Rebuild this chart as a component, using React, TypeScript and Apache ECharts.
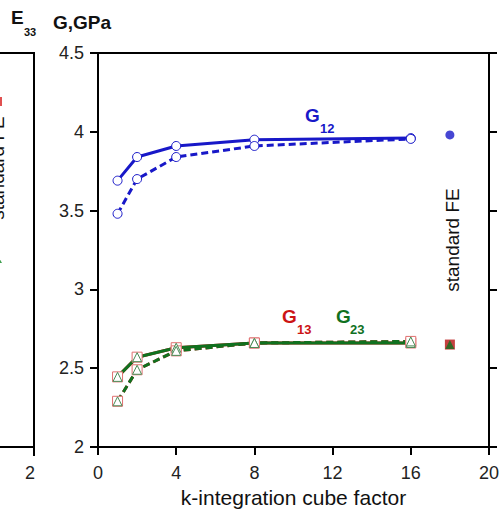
import React, { useEffect, useRef } from "react";
import * as echarts from "echarts";

const FONT = "'Liberation Sans', Arial, sans-serif";

// k-integration cube factor
const kFactors = [1, 2, 4, 8, 16];
// G12 (GPa)
const g12Solid = [3.69, 3.84, 3.91, 3.95, 3.96];
const g12Dashed = [3.48, 3.70, 3.84, 3.91, 3.955];
// G13 (GPa) – coincides with G23
const g13Solid = [2.445, 2.57, 2.63, 2.66, 2.66];
const g13Dashed = [2.29, 2.49, 2.61, 2.66, 2.67];
// G23 (GPa)
const g23Solid = [2.445, 2.57, 2.63, 2.66, 2.66];
const g23Dashed = [2.29, 2.49, 2.61, 2.66, 2.67];
// standard FE reference values
const feX = 18;
const feG12 = 3.98;
const feG13 = 2.65;
const feG23 = 2.65;

const xTicks = { min: 0, max: 20, interval: 4 };
const yTicks = { min: 2, max: 4.5, interval: 0.5 };

const BLUE = "#1818c8";
const GREEN = "#10711f";
const RED = "#cc1414";

const pairs = (ys: number[]) => kFactors.map((k, i) => [k, ys[i]]);

export default function App() {
  const ref = useRef<HTMLDivElement>(null);
  useEffect(() => {
    if (!ref.current) return;
    const chart = echarts.init(ref.current, null, { renderer: "svg" });
    const axisLine = { show: true, onZero: false, lineStyle: { color: "#000", width: 2 } };
    const circleItem = { color: "#fff", borderColor: BLUE, borderWidth: 1 };
    chart.setOption({
      animation: false,
      backgroundColor: "#fff",
      textStyle: { fontFamily: FONT },
      grid: { left: 98, top: 53, width: 392, height: 394 },
      xAxis: [
        {
          type: "value",
          ...xTicks,
          position: "bottom",
          axisLine,
          axisTick: { show: true, inside: false, length: 8, lineStyle: { color: "#000", width: 2 } },
          axisLabel: { fontSize: 18, color: "#222", margin: 17, fontFamily: FONT },
          splitLine: { show: false },
          name: "k-integration cube factor",
          nameLocation: "middle",
          nameGap: 36,
          nameTextStyle: { fontSize: 21, color: "#111", fontFamily: FONT },
        },
        {
          type: "value",
          ...xTicks,
          position: "top",
          axisLine,
          axisTick: { show: false },
          axisLabel: { show: false },
          splitLine: { show: false },
        },
      ],
      yAxis: [
        {
          type: "value",
          ...yTicks,
          position: "left",
          axisLine,
          axisTick: { show: true, inside: false, length: 8, lineStyle: { color: "#000", width: 2 } },
          axisLabel: { fontSize: 18, color: "#222", margin: 14, fontFamily: FONT },
          splitLine: { show: false },
        },
        {
          type: "value",
          ...yTicks,
          position: "right",
          axisLine,
          axisTick: { show: true, inside: false, length: 8, lineStyle: { color: "#000", width: 2 } },
          axisLabel: { show: false },
          splitLine: { show: false },
        },
      ],
      series: [
        {
          name: "G12 solid",
          type: "line",
          data: pairs(g12Solid),
          symbol: "circle",
          symbolSize: 9,
          itemStyle: circleItem,
          lineStyle: { color: BLUE, width: 3 },
        },
        {
          name: "G12 dashed",
          type: "line",
          data: pairs(g12Dashed),
          symbol: "circle",
          symbolSize: 9,
          itemStyle: circleItem,
          lineStyle: { color: BLUE, width: 3, type: [7, 4] },
        },
        {
          name: "G13 solid",
          type: "line",
          data: pairs(g13Solid),
          symbol: "rect",
          symbolSize: 10,
          itemStyle: { color: "#fff", borderColor: "#e07070", borderWidth: 1 },
          lineStyle: { color: RED, width: 3 },
        },
        {
          name: "G13 dashed",
          type: "line",
          data: pairs(g13Dashed),
          symbol: "rect",
          symbolSize: 10,
          itemStyle: { color: "#fff", borderColor: "#e07070", borderWidth: 1 },
          lineStyle: { color: RED, width: 3, type: [7, 4] },
        },
        {
          name: "G23 solid",
          type: "line",
          data: pairs(g23Solid),
          symbol: "triangle",
          symbolSize: 9,
          itemStyle: { color: "#fff", borderColor: "#4a8a55", borderWidth: 1 },
          lineStyle: { color: GREEN, width: 3 },
        },
        {
          name: "G23 dashed",
          type: "line",
          data: pairs(g23Dashed),
          symbol: "triangle",
          symbolSize: 9,
          itemStyle: { color: "#fff", borderColor: "#4a8a55", borderWidth: 1 },
          lineStyle: { color: GREEN, width: 3, type: [7, 4] },
        },
        {
          name: "FE G12",
          type: "scatter",
          data: [[feX, feG12]],
          symbol: "circle",
          symbolSize: 9,
          itemStyle: { color: BLUE },
        },
        {
          name: "FE G13",
          type: "scatter",
          data: [[feX, feG13]],
          symbol: "rect",
          symbolSize: 10,
          itemStyle: { color: "#b81010" },
        },
        {
          name: "FE G23",
          type: "scatter",
          data: [[feX, feG23]],
          symbol: "triangle",
          symbolSize: 9,
          itemStyle: { color: GREEN },
        },
      ],
      graphic: [
        // axis titles
        { type: "text", left: 11, top: 8, style: { text: "E", font: `bold 19px ${FONT}`, fill: "#111" } },
        { type: "text", left: 24, top: 26, style: { text: "33", font: `bold 11px ${FONT}`, fill: "#111" } },
        { type: "text", left: 53, top: 13, style: { text: "G,GPa", font: `bold 19px ${FONT}`, fill: "#111" } },
        // series labels
        { type: "text", x: 305, y: 115, style: { text: "G", font: `bold 19px ${FONT}`, fill: BLUE, verticalAlign: "middle" } },
        { type: "text", x: 320, y: 128, style: { text: "12", font: `bold 13px ${FONT}`, fill: BLUE, verticalAlign: "middle" } },
        { type: "text", x: 282, y: 316, style: { text: "G", font: `bold 19px ${FONT}`, fill: RED, verticalAlign: "middle" } },
        { type: "text", x: 297, y: 329, style: { text: "13", font: `bold 13px ${FONT}`, fill: RED, verticalAlign: "middle" } },
        { type: "text", x: 336, y: 316, style: { text: "G", font: `bold 19px ${FONT}`, fill: GREEN, verticalAlign: "middle" } },
        { type: "text", x: 350, y: 329, style: { text: "23", font: `bold 13px ${FONT}`, fill: GREEN, verticalAlign: "middle" } },
        // standard FE label
        {
          type: "text", x: 452, y: 240, rotation: Math.PI / 2,
          style: { text: "standard FE", font: `19px ${FONT}`, fill: "#111", align: "center", verticalAlign: "middle" },
        },
        // neighbouring (clipped) panel at the left edge
        { type: "line", shape: { x1: 34, y1: 52, x2: 34, y2: 456 }, style: { stroke: "#000", lineWidth: 2 } },
        { type: "line", shape: { x1: 0, y1: 53, x2: 34, y2: 53 }, style: { stroke: "#000", lineWidth: 2 } },
        { type: "line", shape: { x1: 0, y1: 447, x2: 34, y2: 447 }, style: { stroke: "#000", lineWidth: 2 } },
        { type: "text", x: 30, y: 473, style: { text: "2", font: `18px ${FONT}`, fill: "#222", align: "center", verticalAlign: "middle" } },
        {
          type: "text", x: -3, y: 168, rotation: Math.PI / 2,
          style: { text: "standard FE", font: `19px ${FONT}`, fill: "#111", align: "center", verticalAlign: "middle" },
        },
        { type: "rect", shape: { x: -8, y: 97, width: 10, height: 9 }, style: { fill: "#e05050" } },
        { type: "polygon", shape: { points: [[-3, 254], [2, 263], [-8, 263]] }, style: { fill: "#40a050" } },
      ],
    });
    return () => chart.dispose();
  }, []);
  return (
    <div
      ref={ref}
      style={{ position: "fixed", left: 0, top: 0, width: 502, height: 514, background: "#fff" }}
    />
  );
}
